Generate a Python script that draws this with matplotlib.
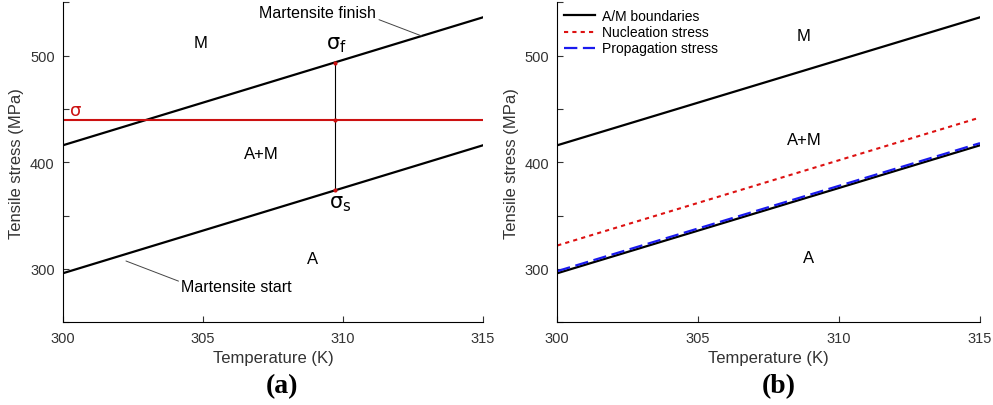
import numpy as np
import matplotlib.pyplot as plt

plt.rcParams['font.family'] = ['Liberation Sans', 'DejaVu Sans']
plt.rcParams['mathtext.fontset'] = 'dejavusans'

# data
temperature = [300, 315]
mf_stress = [416, 536]      # martensite finish
ms_stress = [296, 416]      # martensite start
nucleation = [322, 442]
propagation = [298, 418]
sigma = 440
t_sigma = 309.7
sigma_f = 493.6
sigma_s = 373.6

yticks = [250, 300, 350, 400, 450, 500, 550]
ylabels = ['', '300', '', '400', '', '500', '']
xticks = [300, 305, 310, 315]


def style_axes(ax):
    ax.set_xlim(300, 315)
    ax.set_ylim(250, 550)
    ax.set_xticks(xticks)
    ax.set_yticks(yticks)
    ax.set_yticklabels(ylabels)
    ax.spines['top'].set_visible(False)
    ax.spines['right'].set_visible(False)
    ax.tick_params(direction='in', length=4, labelsize=10.5, colors='#333333',
                   labelcolor='#333333', pad=6)
    ax.set_xlabel('Temperature (K)', fontsize=12, color='#333333')
    ax.set_ylabel('Tensile stress (MPa)', fontsize=12, color='#333333')


fig = plt.figure(figsize=(9.93, 4.06), dpi=100)
ax1 = fig.add_axes([0.0634, 0.2037, 0.423, 0.788])
ax2 = fig.add_axes([0.5612, 0.2037, 0.4257, 0.788])

# (a)
ax1.plot(temperature, mf_stress, color='k', lw=1.6)
ax1.plot(temperature, ms_stress, color='k', lw=1.6)
ax1.axhline(sigma, color='#cc1111', lw=1.5)
ax1.plot([t_sigma, t_sigma], [sigma_s, sigma_f], color='k', lw=0.8)
ax1.plot([t_sigma] * 3, [sigma_s, sigma, sigma_f], 'o', color='#cc1111', ms=2)
ax1.text(304.93, 512.8, 'M', fontsize=12, ha='center', va='center')
ax1.text(307.07, 408, 'A+M', fontsize=12, ha='center', va='center')
ax1.text(308.9, 310, 'A', fontsize=12, ha='center', va='center')
ax1.text(309.75, 511, 'σ$_{\\rm f}$', fontsize=15, ha='center', va='center',
         family='DejaVu Sans')
ax1.text(309.9, 362, 'σ$_{\\rm s}$', fontsize=15, ha='center', va='center',
         family='DejaVu Sans')
ax1.text(300.45, 449, 'σ', fontsize=13, color='#cc1111', ha='center', va='center',
         family='DejaVu Sans')
ax1.annotate('Martensite finish', xy=(312.8, 518.6), xytext=(309.1, 540.5),
             fontsize=11.5, ha='center', va='center',
             arrowprops=dict(arrowstyle='-', color='#444444', lw=0.7,
                             shrinkA=0, shrinkB=0, relpos=(0.93, 0.3)))
ax1.annotate('Martensite start', xy=(302.25, 307.5), xytext=(306.2, 283.4),
             fontsize=11.5, ha='center', va='center',
             arrowprops=dict(arrowstyle='-', color='#444444', lw=0.7,
                             shrinkA=0, shrinkB=0, relpos=(0.0, 0.8)))
style_axes(ax1)

# (b)
ax2.plot(temperature, mf_stress, color='k', lw=1.6, label='A/M boundaries')
ax2.plot(temperature, ms_stress, color='k', lw=1.6)
ax2.plot(temperature, nucleation, color='#dd1111', lw=1.5, ls=(0, (2, 2)),
         label='Nucleation stress')
ax2.plot(temperature, propagation, color='#1a1aee', lw=1.6, ls=(0, (6, 2.5)),
         label='Propagation stress')
ax2.text(308.75, 518.7, 'M', fontsize=12, ha='center', va='center')
ax2.text(308.75, 421, 'A+M', fontsize=12, ha='center', va='center')
ax2.text(308.9, 311, 'A', fontsize=12, ha='center', va='center')
ax2.legend(loc='upper left', frameon=False, fontsize=10, handlelength=2.2,
           labelspacing=0.15, borderaxespad=0.1, handletextpad=0.5,
           bbox_to_anchor=(0.0, 1.0))
style_axes(ax2)

fig.text(0.284, 0.048, '(a)', fontsize=20, fontweight='bold',
         family='Liberation Serif', ha='center', va='center')
fig.text(0.784, 0.048, '(b)', fontsize=20, fontweight='bold',
         family='Liberation Serif', ha='center', va='center')

fig.savefig('out.png', dpi=100)
